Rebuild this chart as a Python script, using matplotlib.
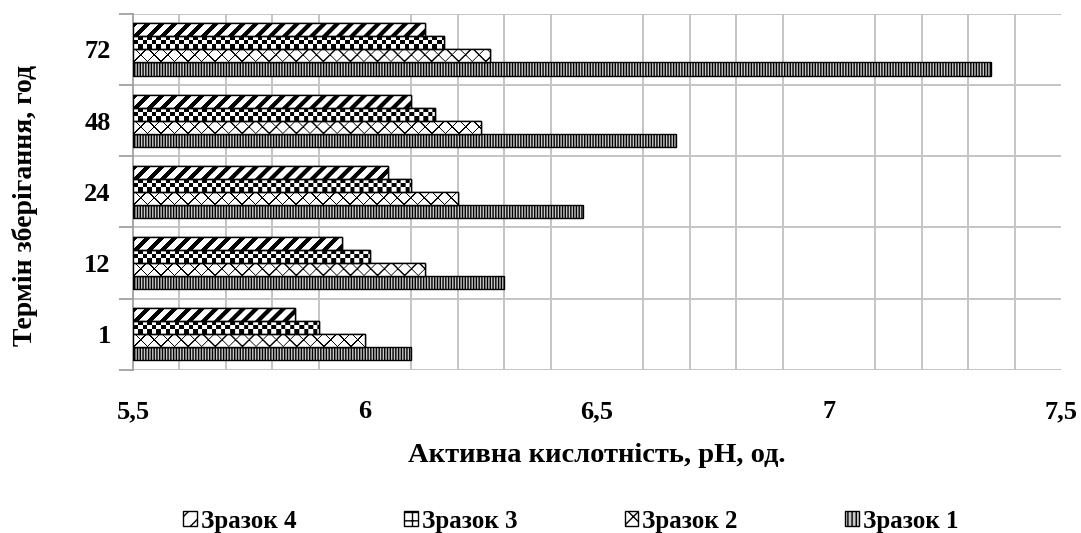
import matplotlib
matplotlib.use("Agg")
import matplotlib.pyplot as plt
import numpy as np
from matplotlib.patches import Patch

categories = ["1", "12", "24", "48", "72"]
series_names = ["Зразок 1", "Зразок 2", "Зразок 3", "Зразок 4"]
zrazok1 = [6.10, 6.30, 6.47, 6.67, 7.35]
zrazok2 = [6.00, 6.13, 6.20, 6.25, 6.27]
zrazok3 = [5.90, 6.01, 6.10, 6.15, 6.17]
zrazok4 = [5.85, 5.95, 6.05, 6.10, 6.13]
x_ticks = [5.5, 6.0, 6.5, 7.0, 7.5]
x_tick_labels = ["5,5", "6", "6,5", "7", "7,5"]

plt.rcParams['font.family'] = ['Liberation Serif', 'DejaVu Serif']
plt.rcParams['font.weight'] = 'bold'

fig = plt.figure(figsize=(10.81, 5.33), dpi=100)
ax = fig.add_axes([0.123, 0.306, 0.8585, 0.668])

xmin = 5.5
y = np.arange(len(categories))
h = 0.183
offsets = [-1.5 * h, -0.5 * h, 0.5 * h, 1.5 * h]
data = [zrazok1, zrazok2, zrazok3, zrazok4]
styles = [
    dict(facecolor="#c8c8c8", hatch="||||||"),
    dict(facecolor="white", hatch=""),
    dict(facecolor="white", hatch=""),
    dict(facecolor="white", hatch=""),
]
plt.rcParams['hatch.linewidth'] = 1.0
bars_all = []
for vals, off, st in zip(data, offsets, styles):
    vals = np.array(vals)
    bars = ax.barh(y + off, vals - xmin, left=xmin, height=h,
                   facecolor=st["facecolor"], hatch=st["hatch"],
                   edgecolor="black", linewidth=1.0, zorder=3)
    bars_all.append(bars)

# pixel-scale texture patterns (fill textures, not data)
W, H = 420, 14
jj, ii = np.meshgrid(np.arange(W), np.arange(H))
checker = ((jj // 4.6).astype(int) + (ii // 4.4).astype(int)) % 2
stripes = (((jj - ii) % 13.5) < 6.0).astype(int)
cross = ((((jj - ii) % 13.5) < 1.3) | (((jj + ii) % 13.5) < 1.3)).astype(int)
textures = {1: cross, 2: checker, 3: stripes}
px = 2.0 / 928.0  # data units per pixel in x
for k, tex in textures.items():
    for bar in bars_all[k]:
        x0, y0 = bar.get_x(), bar.get_y()
        w, hh = bar.get_width(), bar.get_height()
        im = ax.imshow(tex, cmap="gray_r", vmin=0, vmax=1, interpolation="antialiased",
                       origin="lower", extent=[x0, x0 + W * px, y0, y0 + hh],
                       aspect="auto", zorder=3.5)
        im.set_clip_path(bar)
        ax.add_patch(plt.Rectangle((x0, y0), w, hh, facecolor="none", edgecolor="black",
                                   linewidth=1.0, zorder=4))

ax.set_xlim(5.5, 7.5)
ax.set_ylim(-0.5, len(categories) - 0.5)
ax.set_xticks(x_ticks)
ax.set_xticklabels(x_tick_labels, fontsize=19, fontweight='bold')
ax.set_xticks(np.arange(5.5, 7.51, 0.1), minor=True)
ax.set_yticks(y)
ax.set_yticklabels(categories, fontsize=19, fontweight='bold')
ax.set_yticks(np.arange(-0.5, len(categories), 1.0), minor=True)
ax.tick_params(axis='y', which='major', length=0, pad=16)
ax.tick_params(axis='y', which='minor', length=10, color="#a0a0a0", width=1.3)
ax.tick_params(axis='x', which='both', length=0, pad=22)
ax.grid(True, which='minor', axis='both', color="#c4c4c4", linewidth=1.4, zorder=0)
ax.set_axisbelow(True)
for s in ["top", "right", "bottom"]:
    ax.spines[s].set_visible(False)
ax.spines["left"].set_color("#a0a0a0")
ax.spines["left"].set_linewidth(1.3)

ax.set_xlabel("Активна кислотність, рН, од.", fontsize=20.5, fontweight='bold', labelpad=14)
ax.set_ylabel("Термін зберігання, год", fontsize=20, fontweight='bold')
ax.yaxis.set_label_coords(-0.102, 0.463)

legend_hatches = {3: "//", 2: "++", 1: "xx", 0: "||||"}
handles = []
for i in [3, 2, 1, 0]:
    plt.rcParams['hatch.linewidth'] = 2.0 if i == 3 else 1.0
    handles.append(Patch(facecolor=styles[i]["facecolor"], hatch=legend_hatches[i],
                         edgecolor="black", label=series_names[i]))
fig.legend(handles=handles, loc="center", bbox_to_anchor=(0.528, 0.0225), ncol=4,
           frameon=False, handlelength=0.55, handleheight=0.55,
           handletextpad=0.15, columnspacing=4.3, prop={'weight': 'bold', 'size': 18})

fig.savefig("out.png", dpi=100)
